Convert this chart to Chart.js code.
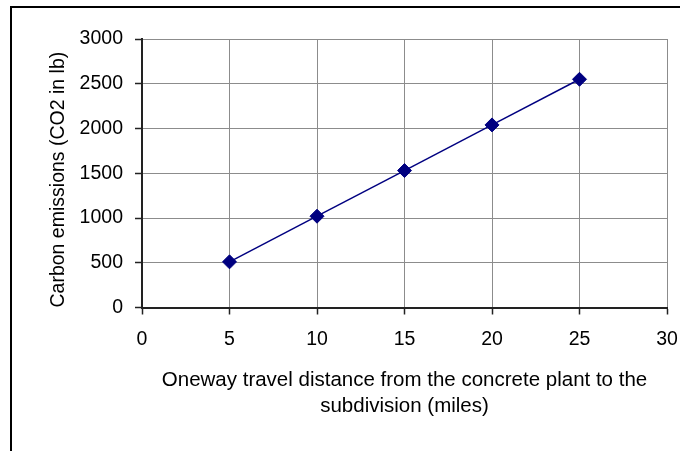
<!DOCTYPE html>
<html>
<head>
<meta charset="utf-8">
<script src="https://cdn.jsdelivr.net/npm/chart.js@4/dist/chart.umd.min.js"></script>
<style>
  html, body { margin: 0; padding: 0; background: #fff; overflow: hidden; }
  .wrap { position: relative; width: 680px; height: 451px; }
  .frame { position: absolute; left: 10px; top: 6px; width: 720px; height: 500px; border: 2px solid #000; box-sizing: border-box; }
  .wrap canvas { position: absolute; left: 0; top: 0; }
</style>
</head>
<body>
<div class="wrap">
  <div class="frame"></div>
  <canvas id="chart"></canvas>
</div>
<script>
const distances = [5, 10, 15, 20, 25];            // miles
const emissions = [510, 1020, 1530, 2040, 2550];  // lb CO2
const xTitle = ['Oneway travel distance from the concrete plant to the', 'subdivision (miles)'];
const yTitle = 'Carbon emissions (CO2 in lb)';

const FONT = '"Liberation Sans", Arial, sans-serif';
const GRID = '#8c8c8c';
const AXIS = '#222';

// no label overhang padding, the layout padding below fixes the plot box
const noOverhang = (s) => { s.paddingLeft = 0; s.paddingRight = 0; s.paddingTop = 0; s.paddingBottom = 0; };

new Chart(document.getElementById('chart').getContext('2d'), {
  type: 'line',
  data: {
    datasets: [{
      data: distances.map((d, i) => ({ x: d, y: emissions[i] })),
      borderColor: '#000080',
      borderWidth: 1.5,
      backgroundColor: '#000080',
      pointStyle: 'rectRot',
      pointRadius: 7,
      pointBorderWidth: 1,
      pointBackgroundColor: '#000080',
      pointBorderColor: '#000080',
      tension: 0,
    }],
  },
  options: {
    responsive: true,
    maintainAspectRatio: false,
    animation: false,
    layout: { padding: { top: 39, right: 13, bottom: 0, left: 0 } },
    plugins: { legend: { display: false }, tooltip: { enabled: false } },
    scales: {
      x: {
        type: 'linear',
        min: 0, max: 30,
        ticks: { stepSize: 5, color: '#000', padding: 13, font: { family: FONT, size: 19.5 }, callback: (v) => String(v) },
        grid: { color: GRID, lineWidth: 1, tickLength: 7, tickColor: AXIS, tickWidth: 1.5 },
        border: { color: AXIS, width: 2 },
        title: { display: true, text: xTitle, color: '#000', padding: { bottom: 31 }, font: { family: FONT, size: 20.5, lineHeight: '26.5px' } },
        afterFit: (s) => { s.height = 143.5; noOverhang(s); },
      },
      y: {
        min: 0, max: 3000,
        ticks: { stepSize: 500, color: '#000', padding: 12, font: { family: FONT, size: 19.5 }, callback: (v) => String(v) },
        grid: { color: GRID, lineWidth: 1, tickLength: 7, tickColor: AXIS, tickWidth: 1.5 },
        border: { color: AXIS, width: 2 },
        title: { display: true, text: yTitle, color: '#000', align: 'start', padding: { top: 47 }, font: { family: FONT, size: 19.5 } },
        afterFit: (s) => { s.width = 142; noOverhang(s); },
      },
    },
  },
});
</script>
</body>
</html>
